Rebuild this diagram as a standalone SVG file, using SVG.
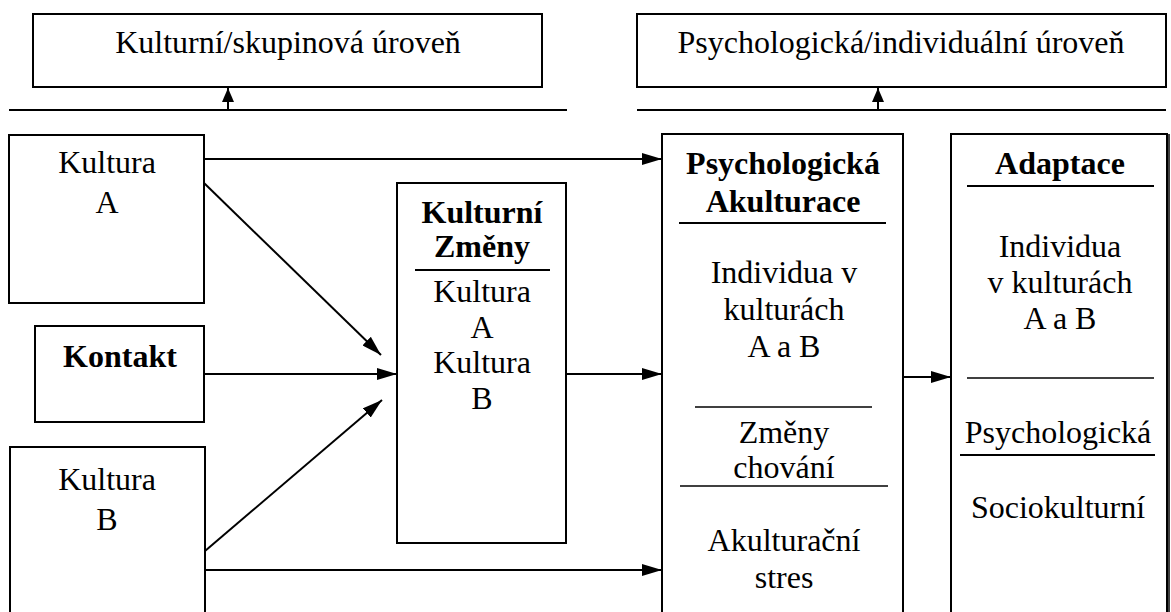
<svg xmlns="http://www.w3.org/2000/svg" width="1171" height="612" viewBox="0 0 1171 612">
  <style>
    .box { fill: #fff; stroke: #000; stroke-width: 2; }
    .rule { stroke: #000; stroke-width: 2; fill: none; }
    .thin { stroke: #000; stroke-width: 1.5; fill: none; }
    .conn { stroke: #000; stroke-width: 2; fill: none; }
    text { font-family: "Liberation Serif", "Times New Roman", serif; font-size: 32px; fill: #000; text-anchor: middle; }
    .b { font-weight: bold; }
  </style>
  <defs>
    <marker id="arrow" viewBox="0 0 20 12" refX="20" refY="6" markerWidth="20" markerHeight="12" markerUnits="userSpaceOnUse" orient="auto">
      <path d="M0,0 L20,6 L0,12 z" fill="#000"/>
    </marker>
    <marker id="arrowSmall" viewBox="0 0 14 12" refX="14" refY="6" markerWidth="14" markerHeight="12" markerUnits="userSpaceOnUse" orient="auto">
      <path d="M0,0 L14,6 L0,12 z" fill="#000"/>
    </marker>
  </defs>
  <rect width="1171" height="612" fill="#fff"/>

  <!-- level headers -->
  <g id="level-cultural">
    <rect class="box" x="33" y="14" width="509" height="73"/>
    <text x="288" y="53">Kulturní/skupinová úroveň</text>
  </g>
  <g id="level-psychological">
    <rect class="box" x="637" y="14" width="529" height="73"/>
    <text x="901" y="53">Psychologická/individuální úroveň</text>
  </g>

  <!-- left column -->
  <g id="culture-a">
    <rect class="box" x="9" y="135" width="195" height="168"/>
    <text x="107" y="173">Kultura</text>
    <text x="107" y="213">A</text>
  </g>
  <g id="contact">
    <rect class="box" x="35" y="326" width="169" height="96"/>
    <text class="b" x="120" y="367">Kontakt</text>
  </g>
  <g id="culture-b">
    <rect class="box" x="10" y="447" width="195" height="175"/>
    <text x="107" y="490">Kultura</text>
    <text x="107" y="530">B</text>
  </g>

  <!-- cultural changes -->
  <g id="cultural-changes">
    <rect class="box" x="397" y="183" width="169" height="360"/>
    <text class="b" x="482" y="223">Kulturní</text>
    <text class="b" x="482" y="257">Změny</text>
    <line class="rule" x1="415" y1="270" x2="550" y2="270"/>
    <text x="482" y="302">Kultura</text>
    <text x="482" y="338">A</text>
    <text x="482" y="373">Kultura</text>
    <text x="482" y="409">B</text>
  </g>

  <!-- psychological acculturation -->
  <g id="psych-acculturation">
    <rect class="box" x="662" y="134" width="241" height="490"/>
    <text class="b" x="783" y="174">Psychologická</text>
    <text class="b" x="783" y="212">Akulturace</text>
    <line class="rule" x1="679" y1="223" x2="886" y2="223" stroke-width="3"/>
    <text x="784" y="283">Individua v</text>
    <text x="784" y="320">kulturách</text>
    <text x="784" y="357">A a B</text>
    <line class="thin" x1="695" y1="407" x2="872" y2="407"/>
    <text x="784" y="443">Změny</text>
    <text x="784" y="478">chování</text>
    <line class="thin" x1="680" y1="486" x2="888" y2="486"/>
    <text x="784" y="551">Akulturační</text>
    <text x="784" y="588">stres</text>
  </g>

  <!-- adaptation -->
  <g id="adaptation">
    <rect class="box" x="951" y="134" width="216" height="490"/>
    <line x1="1169" y1="134" x2="1169" y2="612" stroke="#000" stroke-width="1.5"/>
    <text class="b" x="1060" y="174">Adaptace</text>
    <line class="rule" x1="967" y1="186" x2="1154" y2="186" stroke-width="3"/>
    <text x="1060" y="257">Individua</text>
    <text x="1060" y="293">v kulturách</text>
    <text x="1060" y="329">A a B</text>
    <line class="thin" x1="967" y1="378" x2="1154" y2="378"/>
    <text x="1058" y="443">Psychologická</text>
    <line class="rule" x1="960" y1="455" x2="1155" y2="455"/>
    <text x="1058" y="518">Sociokulturní</text>
  </g>

  <!-- connectors -->
  <g id="connectors">
    <line class="rule" x1="9" y1="110" x2="567" y2="110"/>
    <line class="rule" x1="637" y1="110" x2="1166" y2="110"/>
    <line class="conn" x1="228" y1="110" x2="228" y2="88" marker-end="url(#arrowSmall)"/>
    <line class="conn" x1="878" y1="110" x2="878" y2="88" marker-end="url(#arrowSmall)"/>

    <line class="conn" x1="204" y1="159" x2="662" y2="159" marker-end="url(#arrow)"/>
    <line class="conn" x1="204" y1="183" x2="381" y2="355" marker-end="url(#arrow)"/>
    <line class="conn" x1="204" y1="374" x2="397" y2="374" marker-end="url(#arrow)"/>
    <line class="conn" x1="205" y1="551" x2="382" y2="400" marker-end="url(#arrow)"/>
    <line class="conn" x1="205" y1="570" x2="662" y2="570" marker-end="url(#arrow)"/>
    <line class="conn" x1="566" y1="374" x2="662" y2="374" marker-end="url(#arrow)"/>
    <line class="conn" x1="903" y1="377" x2="951" y2="377" marker-end="url(#arrow)"/>
  </g>
</svg>
